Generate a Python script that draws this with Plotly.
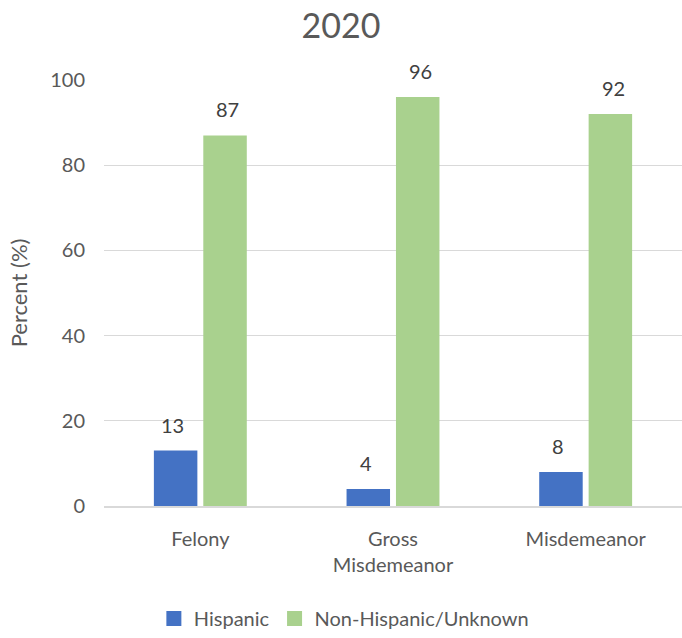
import plotly.graph_objects as go

categories = ["Felony", "Gross<br>Misdemeanor", "Misdemeanor"]
hispanic = [13, 4, 8]
non_hispanic = [87, 96, 92]
y_ticks = [0, 20, 40, 60, 80, 100]
series_names = ["Hispanic", "Non-Hispanic/Unknown"]

BLUE = "#4472C4"
GREEN = "#A9D18E"
TEXT = "#595959"
FONT = "Lato, 'Open Sans', sans-serif"

fig = go.Figure()
for name, vals, color in ((series_names[0], hispanic, BLUE),
                          (series_names[1], non_hispanic, GREEN)):
    fig.add_trace(go.Bar(name=name, x=categories, y=vals, showlegend=False,
                         legendgroup=name,
                         marker=dict(color=color, line=dict(width=0))))
# square swatches for the legend
for name, color in ((series_names[0], BLUE), (series_names[1], GREEN)):
    fig.add_trace(go.Scatter(name=name, x=[None], y=[None], mode="markers",
                             legendgroup=name,
                             marker=dict(symbol="square", size=15, color=color)))

# value labels above each bar, shifted to the bar's slot in the group
annotations = []
for series, shift in ((hispanic, -27.5), (non_hispanic, 27.5)):
    for cat, val in zip(categories, series):
        annotations.append(dict(x=cat, y=val, text=str(val), showarrow=False,
                                xshift=shift, yanchor="bottom", yshift=12,
                                font=dict(size=20, color="#404040", family=FONT)))

fig.update_layout(
    width=682, height=638,
    margin=dict(l=104, r=0, t=80, b=130),
    paper_bgcolor="white", plot_bgcolor="white",
    font=dict(family=FONT, color=TEXT, size=20),
    title=dict(text="2020", x=0.5, xanchor="center", y=1 - 26 / 638,
               yanchor="middle", font=dict(size=34, color=TEXT, family=FONT)),
    barmode="group", bargap=0.487, bargroupgap=0.12,
    showlegend=True,
    legend=dict(orientation="h", x=0.415, xanchor="center", y=-0.264,
                yanchor="middle", font=dict(size=20, color=TEXT),
                itemwidth=30, traceorder="normal"),
    annotations=annotations,
)
fig.update_xaxes(showgrid=False, showline=True, linecolor="#d9d9d9", linewidth=1.5,
                 ticks="outside", ticklen=14, tickcolor="rgba(0,0,0,0)",
                 tickfont=dict(size=20, color=TEXT))
fig.update_yaxes(range=[0, 100], tickvals=y_ticks, showgrid=True,
                 gridcolor="#d9d9d9", gridwidth=1, zeroline=False, showline=False,
                 ticks="outside", ticklen=14, tickcolor="rgba(0,0,0,0)",
                 tickfont=dict(size=20, color=TEXT),
                 title=dict(text="Percent (%)", standoff=16,
                            font=dict(size=22, color=TEXT)))

fig.write_html("out.html")
